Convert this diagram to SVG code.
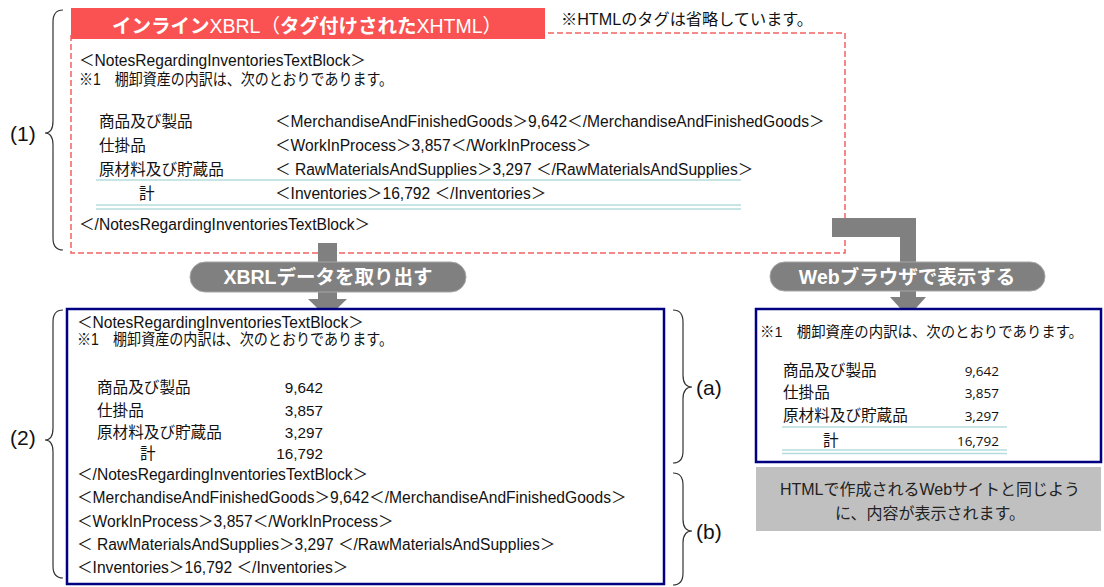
<svg xmlns="http://www.w3.org/2000/svg" width="1104" height="587" viewBox="0 0 1104 587">
<style>
text{font-family:"Liberation Sans","Noto Sans CJK JP",sans-serif;fill:#111;}
.t{font-size:15.6px;}
.num{font-size:15.3px;text-anchor:end;}
.num2{font-family:"Open Sans","Noto Sans",sans-serif;font-size:13.5px;text-anchor:end;}
.lbl{font-size:21px;}
.brace{fill:none;stroke:#333;stroke-width:1.2;}
.rule{stroke:#b6dcdc;stroke-width:1.5;}
.pilltxt{font-size:19.5px;font-weight:bold;fill:#fff;text-anchor:middle;}
.arrow{fill:#808080;}
.pill{fill:#808080;stroke:#a6a6a6;stroke-width:1;}
.blue{fill:#fff;stroke:#000080;stroke-width:2.5;}
</style>

<g id="inline-xbrl">
<rect x="71" y="33" width="774" height="220" fill="#fff" stroke="#f26262" stroke-width="1.5" stroke-dasharray="6 3"/>
<rect x="71" y="8" width="474" height="31" fill="#fa5252"/>
<text x="307" y="33" text-anchor="middle" style="font-size:19.5px;fill:#fff"><tspan font-weight="bold">インライン</tspan>XBRL（<tspan font-weight="bold">タグ付けされた</tspan>XHTML）</text>
<text class="t" x="79" y="65.5">＜NotesRegardingInventoriesTextBlock＞</text>
<text class="t" x="79" y="84.5" textLength="314" lengthAdjust="spacingAndGlyphs">※1　棚卸資産の内訳は、次のとおりであります。</text>
<text class="t" x="99" y="126.5">商品及び製品</text>
<text class="t" x="275" y="126.5">＜MerchandiseAndFinishedGoods＞9,642＜/MerchandiseAndFinishedGoods＞</text>
<text class="t" x="99" y="150.5">仕掛品</text>
<text class="t" x="275" y="150.5">＜WorkInProcess＞3,857＜/WorkInProcess＞</text>
<text class="t" x="99" y="174.5">原材料及び貯蔵品</text>
<text class="t" x="275" y="174.5">＜ RawMaterialsAndSupplies＞3,297 ＜/RawMaterialsAndSupplies＞</text>
<line class="rule" x1="96" y1="180" x2="741" y2="180"/>
<text class="t" x="139" y="198.5">計</text>
<text class="t" x="275" y="198.5">＜Inventories＞16,792 ＜/Inventories＞</text>
<line class="rule" x1="96" y1="205" x2="741" y2="205"/>
<line class="rule" x1="96" y1="209" x2="741" y2="209"/>
<text class="t" x="79" y="229.5">＜/NotesRegardingInventoriesTextBlock＞</text>
</g>

<g id="note">
<text class="t" x="561" y="25" textLength="252" lengthAdjust="spacingAndGlyphs">※HTMLのタグは省略しています。</text>
</g>

<g id="brace-1">
<path class="brace" d="M63,10 Q53,10 53,22 L53,121 Q53,133 45,133 Q53,133 53,145 L53,238 Q53,250 63,250"/>
<text class="lbl" x="10" y="141">(1)</text>
</g>

<g id="connectors">
<polygon class="arrow" points="318,243 337,243 337,299 347,299 327.5,318 308,299 318,299"/>
<polygon class="arrow" points="832,218 916,218 916,297 926,297 908,317 890,297 900,297 900,237 832,237"/>
<g id="label-extract">
<rect class="pill" x="190" y="262" width="276" height="30" rx="15"/>
<text class="pilltxt" x="328" y="284">XBRLデータを取り出す</text>
</g>
<g id="label-browser">
<rect class="pill" x="770" y="262" width="275" height="29" rx="14.5"/>
<text class="pilltxt" x="907" y="284">Webブラウザで表示する</text>
</g>
</g>

<g id="xbrl-data">
<rect class="blue" x="67" y="309" width="597" height="275"/>
<text class="t" x="77" y="327.5">＜NotesRegardingInventoriesTextBlock＞</text>
<text class="t" x="77" y="344.5" textLength="316" lengthAdjust="spacingAndGlyphs">※1　棚卸資産の内訳は、次のとおりであります。</text>
<text class="t" x="97" y="392.5">商品及び製品</text>
<text class="num" x="323" y="392.5">9,642</text>
<text class="t" x="97" y="415.5">仕掛品</text>
<text class="num" x="323" y="415.5">3,857</text>
<text class="t" x="97" y="437.5">原材料及び貯蔵品</text>
<text class="num" x="323" y="437.5">3,297</text>
<text class="t" x="140" y="458.5">計</text>
<text class="num" x="323" y="458.5">16,792</text>
<text class="t" x="77" y="479.5">＜/NotesRegardingInventoriesTextBlock＞</text>
<text class="t" x="77" y="502.5">＜MerchandiseAndFinishedGoods＞9,642＜/MerchandiseAndFinishedGoods＞</text>
<text class="t" x="77" y="526.5">＜WorkInProcess＞3,857＜/WorkInProcess＞</text>
<text class="t" x="77" y="549.5">＜ RawMaterialsAndSupplies＞3,297 ＜/RawMaterialsAndSupplies＞</text>
<text class="t" x="77" y="572.5">＜Inventories＞16,792 ＜/Inventories＞</text>
</g>

<g id="brace-2">
<path class="brace" d="M63,310 Q53,310 53,322 L53,428 Q53,440 45,440 Q53,440 53,452 L53,566 Q53,578 63,578"/>
<text class="lbl" x="10" y="445">(2)</text>
</g>

<g id="brace-a">
<path class="brace" d="M673,310 Q683,310 683,322 L683,375 Q683,387 692,387 Q683,387 683,399 L683,451 Q683,463 673,463"/>
<text class="lbl" x="696" y="395">(a)</text>
</g>

<g id="brace-b">
<path class="brace" d="M673,473 Q683,473 683,485 L683,519 Q683,531 692,531 Q683,531 683,543 L683,573 Q683,585 673,585"/>
<text class="lbl" x="696" y="539">(b)</text>
</g>

<g id="browser-view">
<rect class="blue" x="756" y="309" width="345" height="153"/>
<text x="760" y="337" style="font-size:14.4px">※1　棚卸資産の内訳は、次のとおりであります。</text>
<text class="t" x="783" y="376">商品及び製品</text>
<text class="num2" x="999" y="376">9,642</text>
<text class="t" x="783" y="398">仕掛品</text>
<text class="num2" x="999" y="398">3,857</text>
<text class="t" x="783" y="421">原材料及び貯蔵品</text>
<text class="num2" x="999" y="421">3,297</text>
<line class="rule" x1="782" y1="427" x2="1007" y2="427"/>
<text class="t" x="823" y="446">計</text>
<text class="num2" x="999" y="446">16,792</text>
<line class="rule" x1="782" y1="450" x2="1007" y2="450"/>
<line class="rule" x1="782" y1="453.5" x2="1007" y2="453.5"/>
</g>

<g id="caption">
<rect x="756" y="467" width="345" height="64" fill="#c0c0c0"/>
<text x="930" y="495" text-anchor="middle" style="font-size:16px;fill:#222">HTMLで作成されるWebサイトと同じよう</text>
<text x="930" y="519" text-anchor="middle" style="font-size:16px;fill:#222">に、内容が表示されます。</text>
</g>
</svg>
